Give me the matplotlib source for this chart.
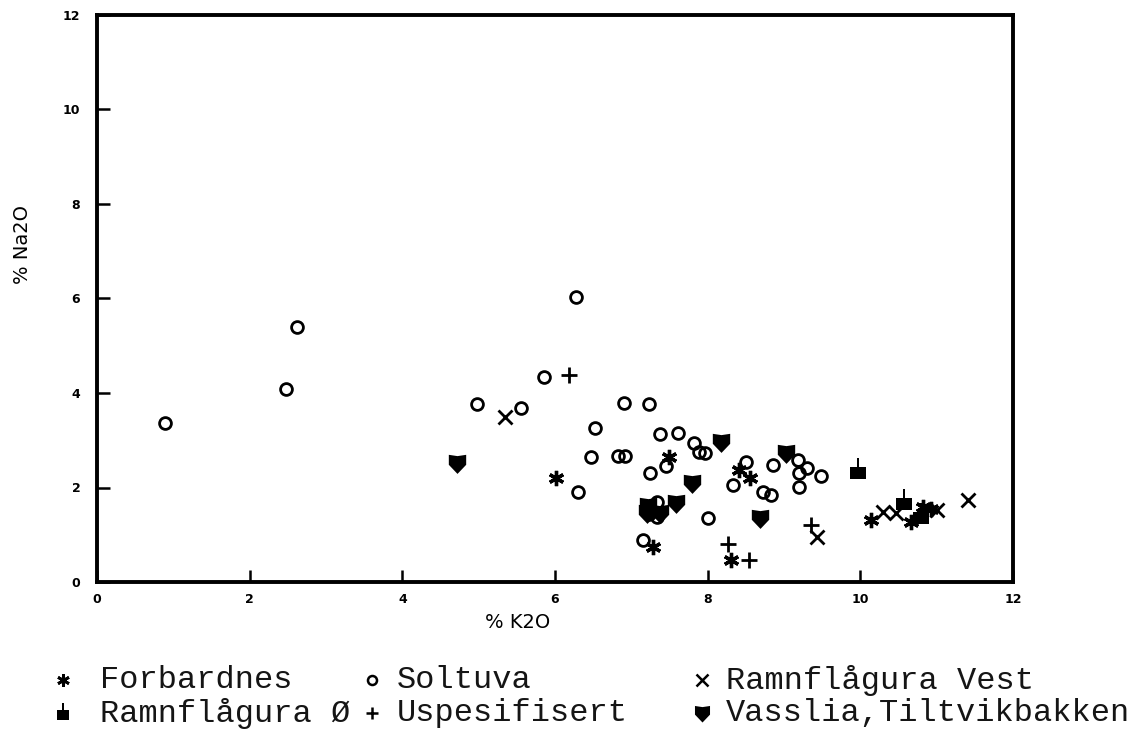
import numpy as np
import matplotlib.pyplot as plt
from matplotlib.path import Path
from matplotlib.lines import Line2D

# data (% K2O, % Na2O)
forbardnes_k = [6.01, 7.28, 7.49, 8.31, 8.41, 8.55, 10.14, 10.66, 10.82, 10.92]
forbardnes_na = [2.20, 0.74, 2.65, 0.47, 2.37, 2.20, 1.31, 1.27, 1.59, 1.55]

soltuva_k = [0.89, 2.47, 2.62, 6.27, 5.86, 4.98, 5.56, 6.30, 6.52, 6.47, 6.90, 7.23,
             6.83, 6.92, 7.38, 7.61, 7.25, 7.45, 7.82, 7.88, 7.96, 7.34, 7.15, 8.00,
             8.33, 8.50, 8.72, 8.83, 8.85, 9.18, 9.30, 9.19, 9.19, 9.48, 7.23, 7.34]
soltuva_na = [3.37, 4.08, 5.40, 6.03, 4.34, 3.76, 3.68, 1.90, 3.26, 2.65, 3.79, 3.77,
              2.67, 2.67, 3.13, 3.15, 2.31, 2.45, 2.94, 2.75, 2.73, 1.69, 0.89, 1.35,
              2.05, 2.54, 1.90, 1.84, 2.48, 2.58, 2.41, 2.31, 2.01, 2.24, 1.44, 1.38]

vest_k = [5.35, 9.43, 10.30, 10.47, 11.00, 11.41]
vest_na = [3.49, 0.95, 1.48, 1.46, 1.52, 1.74]

ramn_o_k = [9.97, 10.57, 10.79]
ramn_o_na = [2.37, 1.72, 1.42]

usp_k = [6.18, 8.26, 8.54, 9.36]
usp_na = [4.38, 0.80, 0.47, 1.21]

vasslia_k = [4.72, 8.18, 7.80, 7.59, 7.22, 7.21, 7.38, 8.68, 9.02]
vasslia_na = [2.52, 2.96, 2.10, 1.67, 1.60, 1.45, 1.45, 1.35, 2.73]

labels = ['Forbardnes', 'Soltuva', 'Ramnflågura Vest',
          'Ramnflågura Ø', 'Uspesifisert', 'Vasslia,Tiltvikbakken']

# custom markers: shield and "thumb" block
shield = Path([(-1, 1), (0, 0.85), (1, 1), (1, -0.15), (0, -1.2), (-1, -0.15), (-1, 1)],
              [Path.MOVETO] + [Path.LINETO] * 5 + [Path.CLOSEPOLY])
thumb = Path([(-0.7, -0.8), (0.7, -0.8), (0.7, 0.3), (0.12, 0.3), (0.12, 1.1),
              (-0.08, 1.1), (-0.08, 0.3), (-0.7, 0.3), (-0.7, -0.8)],
             [Path.MOVETO] + [Path.LINETO] * 7 + [Path.CLOSEPOLY])

styles = [
    dict(marker=(6, 2, 0), ms=11, mew=2.4, color='black', mfc='none'),
    dict(marker='o', ms=8.5, mew=2.0, color='black', mfc='none'),
    dict(marker='x', ms=10, mew=2.0, color='black'),
    dict(marker=thumb, ms=17, mew=0, color='black'),
    dict(marker='+', ms=12, mew=2.0, color='black'),
    dict(marker=shield, ms=15, mew=0, color='black'),
]

fig = plt.figure(figsize=(11.38, 7.35), dpi=100)
ax = fig.add_axes([97 / 1138, 1 - 582 / 735, 916 / 1138, 567 / 735])

series = [(forbardnes_k, forbardnes_na), (soltuva_k, soltuva_na), (vest_k, vest_na),
          (ramn_o_k, ramn_o_na), (usp_k, usp_na), (vasslia_k, vasslia_na)]
for (xs, ys), st in zip(series, styles):
    ax.plot(xs, ys, ls='none', **st)

ax.set_xlim(0, 12)
ax.set_ylim(0, 12)
ax.set_xticks(np.arange(0, 13, 2))
ax.set_yticks(np.arange(0, 13, 2))
for s in ax.spines.values():
    s.set_linewidth(2.8)
ax.tick_params(direction='in', length=9, width=1.8, labelsize=9)
ax.tick_params(axis='x', pad=8)
ax.tick_params(axis='y', pad=12)
for t in ax.get_xticklabels() + ax.get_yticklabels():
    t.set_fontweight('bold')

ax.set_xlabel('% K2O', fontsize=14)
ax.xaxis.set_label_coords((518 - 97) / 916, -(613 - 582) / 567)
ax.set_ylabel('% Na2O', fontsize=14)
ax.yaxis.set_label_coords(-(97 - 32) / 916, (582 - 245) / 567)

# legend laid out by hand below the plot
legend_font = dict(family='Liberation Mono', fontsize=23, color='#151515', va='center')
rows_y = [1 - 680 / 735, 1 - 713 / 735]
mark_x = [63 / 1138, 372 / 1138, 702 / 1138]
text_x = [100 / 1138, 397 / 1138, 726 / 1138]
legend_styles = [
    dict(marker=(6, 2, 0), ms=9, mew=2.0, color='black'),
    dict(marker='o', ms=6.5, mew=1.8, color='black', mfc='none'),
    dict(marker='x', ms=8, mew=1.8, color='black'),
    dict(marker=thumb, ms=14, mew=0, color='black'),
    dict(marker='+', ms=9, mew=1.8, color='black'),
    dict(marker=shield, ms=13, mew=0, color='black'),
]
for i, (lab, st) in enumerate(zip(labels, legend_styles)):
    r, c = divmod(i, 3)
    fig.add_artist(Line2D([mark_x[c]], [rows_y[r]], transform=fig.transFigure, ls='none', **st))
    fig.text(text_x[c], rows_y[r], lab, **legend_font)

fig.savefig('out.png', dpi=100)
